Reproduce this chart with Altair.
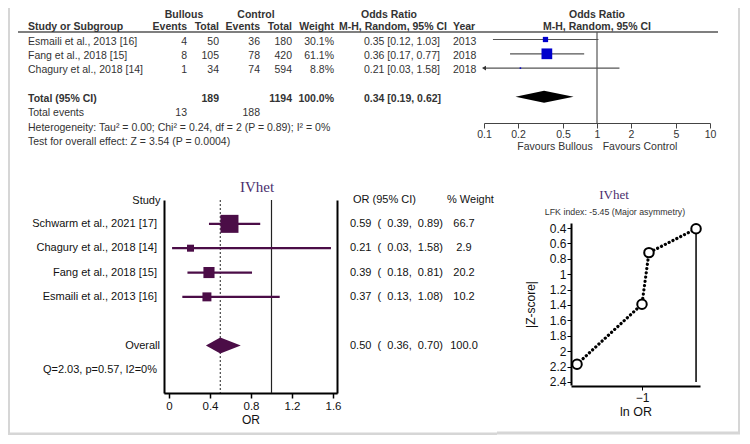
import altair as alt
import pandas as pd

# ---------------- data ----------------
# top panel (RevMan forest plot)
top_studies = ["Esmaili et al., 2013 [16]", "Fang et al., 2018 [15]", "Chagury et al., 2018 [14]"]
top_bullous_events = [4, 8, 1]
top_bullous_total = [50, 105, 34]
top_control_events = [36, 78, 74]
top_control_total = [180, 420, 594]
top_weight = [30.1, 61.1, 8.8]
top_or = [0.35, 0.36, 0.21]
top_lo = [0.12, 0.17, 0.03]
top_hi = [1.03, 0.77, 1.58]
top_year = [2013, 2018, 2018]
top_pooled = [0.34, 0.19, 0.62]          # OR, lower, upper
top_sum_total = [189, 1194]
top_sum_events = [13, 188]
top_ticks = [0.1, 0.2, 0.5, 1, 2, 5, 10]
top_het = "Heterogeneity: Tau\u00b2 = 0.00; Chi\u00b2 = 0.24, df = 2 (P = 0.89); I\u00b2 = 0%"
top_test = "Test for overall effect: Z = 3.54 (P = 0.0004)"

# bottom-left panel (MetaXL IVhet forest plot)
bl_studies = ["Schwarm et al., 2021 [17]", "Chagury et al., 2018 [14]", "Fang et al., 2018 [15]", "Esmaili et al., 2013 [16]"]
bl_or = [0.59, 0.21, 0.39, 0.37]
bl_lo = [0.39, 0.03, 0.18, 0.13]
bl_hi = [0.89, 1.58, 0.81, 1.08]
bl_weight = [66.7, 2.9, 20.2, 10.2]
bl_pooled = [0.50, 0.36, 0.70, 100.0]    # OR, lower, upper, weight
bl_q = "Q=2.03, p=0.57, I2=0%"
bl_ticks = [0, 0.4, 0.8, 1.2, 1.6]

# bottom-right panel (Doi plot / LFK)
lfk_lnor = [-0.534, -0.94, -1.0, -1.56]
lfk_z = [0.41, 0.72, 1.39, 2.17]
lfk_yticks = [0.4, 0.6, 0.8, 1.0, 1.2, 1.4, 1.6, 1.8, 2.0, 2.2, 2.4]
lfk_xticks = [-1]
lfk_note = "LFK index: -5.45 (Major asymmetry)"

NULL_OR = 1

# ---------------- layout ----------------
W, H = 733, 427
FONT = "Liberation Sans"
SERIF = "Liberation Serif"
PURPLE = "#4b0d47"
TOPTXT = "#333333"
NB = "\u00a0"


def P(v):
    """page pixel -> chart pixel (page has an 8px margin)"""
    return v - 8


def label(text, x, y, align="left", size=10.5, bold=False, color=TOPTXT, font=FONT):
    return alt.Chart(pd.DataFrame({"t": [text]})).mark_text(
        align=align, baseline="middle", fontSize=size, font=font,
        fontWeight="bold" if bold else "normal", color=color
    ).encode(x=alt.value(P(x)), y=alt.value(P(y)), text="t:N")


layers = []

# ======== TOP PANEL ========
sx_top = alt.Scale(type="log", domain=[0.1, 10], range=[P(484), P(710)], nice=False)
sy_top = alt.Scale(domain=[0, 4], range=[P(39.5), P(96.7)], nice=False, zero=False)
top_axis = alt.Axis(orient="bottom", offset=P(123) - H, values=top_ticks, format="~g", title=None,
                    grid=False, tickSize=5, labelFontSize=10.5, labelColor=TOPTXT, domainColor="#444",
                    tickColor="#444", labelPadding=1, labelFlush=False, labelOverlap=False)

top_df = pd.DataFrame({
    "study": top_studies,
    "be": [str(v) for v in top_bullous_events],
    "bt": [str(v) for v in top_bullous_total],
    "ce": [str(v) for v in top_control_events],
    "ct": [str(v) for v in top_control_total],
    "w": [f"{v:.1f}%" for v in top_weight],
    "weight": top_weight,
    "ci": [f"{o:.2f} [{l:.2f}, {h:.2f}]" for o, l, h in zip(top_or, top_lo, top_hi)],
    "year": [str(v) for v in top_year],
    "or": top_or,
    "lo": top_lo,
    "lo_d": [max(v, 0.1) for v in top_lo],
    "hi": top_hi,
    "row": list(range(len(top_studies))),
})
TOTAL_ROW = 4

# header rule and null line
layers.append(alt.Chart(pd.DataFrame({"a": [0]})).mark_rule(color="#555", strokeWidth=1.5).encode(
    x=alt.value(P(18)), x2=alt.value(P(718)), y=alt.value(P(32))))
layers.append(alt.Chart(pd.DataFrame({"v": [NULL_OR]})).mark_rule(color="#555", strokeWidth=1.2).encode(
    x=alt.X("v:Q", scale=sx_top, axis=None), y=alt.value(P(32)), y2=alt.value(P(123))))
# CI lines (carry the axis)
layers.append(alt.Chart(top_df).mark_rule(color="#555", strokeWidth=1.2).encode(
    x=alt.X("lo_d:Q", scale=sx_top, axis=top_axis), x2="hi:Q",
    y=alt.Y("row:Q", scale=sy_top, axis=None)))
# arrows for clipped CI
layers.append(alt.Chart(top_df[top_df["lo"] < 0.1]).mark_point(
    shape="triangle-left", filled=True, size=22, color="#333", opacity=1).encode(
    x=alt.X("lo_d:Q", scale=sx_top, axis=None), y=alt.Y("row:Q", scale=sy_top, axis=None)))
# squares
layers.append(alt.Chart(top_df).mark_square(color="#0000cc", opacity=1).encode(
    x=alt.X("or:Q", scale=sx_top, axis=None), y=alt.Y("row:Q", scale=sy_top, axis=None),
    size=alt.Size("weight:Q", scale=alt.Scale(type="pow", exponent=2, domain=[0, max(top_weight)], range=[0, 115]),
                  legend=None)))
# pooled diamond
h_top = 0.42
dia_top = pd.DataFrame({
    "x": [top_pooled[1], top_pooled[0], top_pooled[2]],
    "y": [TOTAL_ROW, TOTAL_ROW - h_top, TOTAL_ROW],
    "y2": [TOTAL_ROW, TOTAL_ROW + h_top, TOTAL_ROW],
})
layers.append(alt.Chart(dia_top).mark_area(color="black", opacity=1).encode(
    x=alt.X("x:Q", scale=sx_top, axis=None), y=alt.Y("y:Q", scale=sy_top, axis=None), y2="y2:Q"))


def top_col(field, x, align, df=top_df, bold=False):
    return alt.Chart(df).mark_text(align=align, baseline="middle", dy=2, fontSize=10.5, font=FONT,
                                   fontWeight="bold" if bold else "normal", color=TOPTXT).encode(
        x=alt.value(P(x)), y=alt.Y("row:Q", scale=sy_top, axis=None), text=f"{field}:N")


layers += [
    top_col("study", 28, "left"), top_col("be", 187, "right"), top_col("bt", 219, "right"),
    top_col("ce", 260, "right"), top_col("ct", 292, "right"), top_col("w", 334, "right"),
    top_col("ci", 364, "left"), top_col("year", 453, "left"),
]
tot_df = pd.DataFrame({
    "row": [TOTAL_ROW],
    "lab": ["Total (95% CI)"],
    "bt": [str(top_sum_total[0])],
    "ct": [str(top_sum_total[1])],
    "w": [f"{sum(top_weight):.1f}%"],
    "ci": [f"{top_pooled[0]:.2f} [{top_pooled[1]:.2f}, {top_pooled[2]:.2f}]"],
})
layers += [
    top_col("lab", 28, "left", tot_df, True), top_col("bt", 219, "right", tot_df, True),
    top_col("ct", 292, "right", tot_df, True), top_col("w", 334, "right", tot_df, True),
    top_col("ci", 364, "left", tot_df, True),
]
# headers
HR1, HR2 = 14.5, 26.5
layers += [
    label("Bullous", 184, HR1, "center", bold=True), label("Control", 256, HR1, "center", bold=True),
    label("Odds Ratio", 389, HR1, "center", bold=True), label("Odds Ratio", 597, HR1, "center", bold=True),
    label("Study or Subgroup", 28, HR2, "left", bold=True),
    label("Events", 187, HR2, "right", bold=True), label("Total", 219, HR2, "right", bold=True),
    label("Events", 260, HR2, "right", bold=True), label("Total", 292, HR2, "right", bold=True),
    label("Weight", 334, HR2, "right", bold=True),
    label("M-H, Random, 95% CI", 393, HR2, "center", bold=True),
    label("Year", 453, HR2, "left", bold=True),
    label("M-H, Random, 95% CI", 597, HR2, "center", bold=True),
]
# footer
layers += [
    label("Total events", 28, 113), label(str(top_sum_events[0]), 187, 113, "right"),
    label(str(top_sum_events[1]), 260, 113, "right"),
    label(top_het, 28, 127.5), label(top_test, 28, 142),
    label("Favours Bullous", 555, 147, "center"), label("Favours Control", 640, 147, "center"),
]

# ======== BOTTOM-LEFT PANEL ========
px_per = 102.5
x0_bl = 169
sx_bl = alt.Scale(domain=[-0.05, 1.64], range=[P(x0_bl - 0.05 * px_per), P(x0_bl + 1.64 * px_per)],
                  nice=False, zero=False)
sy_bl = alt.Scale(domain=[-0.98, 6.95], range=[P(200), P(393)], nice=False, zero=False)
OVERALL_ROW, Q_ROW = 5, 6


def ci_text(o, l, h):
    return f"{o:.2f}{NB}{NB}({NB}{NB}{l:.2f},{NB}{NB}{h:.2f})"


bl_df = pd.DataFrame({
    "study": bl_studies, "or": bl_or, "lo": bl_lo, "hi": bl_hi, "weight": bl_weight,
    "ci": [ci_text(o, l, h) for o, l, h in zip(bl_or, bl_lo, bl_hi)],
    "w": [f"{v:.1f}" for v in bl_weight],
    "row": list(range(len(bl_studies))),
})

bl_xaxis = alt.Axis(orient="bottom", offset=P(393) - H, values=bl_ticks, format="~g", title="OR",
                    grid=False, tickSize=5, tickWidth=1.5, tickColor="black", domainColor="black",
                    domainWidth=2, labelFontSize=11.5, titleFontSize=12, titleFontWeight="normal",
                    labelColor="#111", titleColor="#111", labelFlush=False, labelOverlap=False,
                    labelPadding=2, titlePadding=3)
bl_yaxis_l = alt.Axis(orient="left", offset=-P(164), ticks=False, labels=False, grid=False,
                      domainColor="black", domainWidth=2, title="Study", titleAngle=0, titleAlign="right",
                      titleBaseline="middle", titleX=-4, titleY=P(200), titleFontSize=11,
                      titleFontWeight="normal", titleColor="#111")
bl_yaxis_r = alt.Axis(orient="right", offset=P(337) - W, ticks=False, labels=False, grid=False,
                      domainColor="black", domainWidth=2, title=None)

# reference lines
layers.append(alt.Chart(pd.DataFrame({"v": [bl_pooled[0]]})).mark_rule(
    color="#222", strokeWidth=1, strokeDash=[2, 2]).encode(
    x=alt.X("v:Q", scale=sx_bl, axis=None), y=alt.value(P(200)), y2=alt.value(P(393))))
layers.append(alt.Chart(pd.DataFrame({"v": [NULL_OR]})).mark_rule(color="#222", strokeWidth=1.2).encode(
    x=alt.X("v:Q", scale=sx_bl, axis=None), y=alt.value(P(200)), y2=alt.value(P(393))))
# CI lines
layers.append(alt.Chart(bl_df).mark_rule(color=PURPLE, strokeWidth=2.2).encode(
    x=alt.X("lo:Q", scale=sx_bl, axis=bl_xaxis), x2="hi:Q",
    y=alt.Y("row:Q", scale=sy_bl, axis=bl_yaxis_l)))
# squares
layers.append(alt.Chart(bl_df).mark_square(color=PURPLE, opacity=1).encode(
    x=alt.X("or:Q", scale=sx_bl, axis=None), y=alt.Y("row:Q", scale=sy_bl, axis=bl_yaxis_r),
    size=alt.Size("weight:Q", scale=alt.Scale(domain=[min(bl_weight), max(bl_weight)], range=[49, 324]),
                  legend=None)))
# diamond
h_bl = 0.33
dia_bl = pd.DataFrame({
    "x": [bl_pooled[1], bl_pooled[0], bl_pooled[2]],
    "y": [OVERALL_ROW, OVERALL_ROW - h_bl, OVERALL_ROW],
    "y2": [OVERALL_ROW, OVERALL_ROW + h_bl, OVERALL_ROW],
})
layers.append(alt.Chart(dia_bl).mark_area(color=PURPLE, opacity=1).encode(
    x=alt.X("x:Q", scale=sx_bl, axis=None), y=alt.Y("y:Q", scale=sy_bl, axis=None), y2="y2:Q"))


def bl_col(field, x, align, df=bl_df):
    return alt.Chart(df).mark_text(align=align, baseline="middle", fontSize=11, font=FONT, color="#111").encode(
        x=alt.value(P(x)), y=alt.Y("row:Q", scale=sy_bl, axis=None), text=f"{field}:N")


ov_df = pd.DataFrame({
    "row": [OVERALL_ROW, Q_ROW],
    "lab": ["Overall", bl_q],
    "ci": [ci_text(bl_pooled[0], bl_pooled[1], bl_pooled[2]), ""],
    "w": [f"{bl_pooled[3]:.1f}", ""],
})
layers += [
    bl_col("study", 157, "right"), bl_col("ci", 350, "left"), bl_col("w", 464, "center"),
    bl_col("ci", 350, "left", ov_df), bl_col("w", 464, "center", ov_df),
    bl_col("lab", 160, "right", ov_df.iloc[[0]]), bl_col("lab", 157, "right", ov_df.iloc[[1]]),
    label("OR (95% CI)", 353, 200, "left", size=11, color="#111"),
    label("% Weight", 447, 200, "left", size=11, color="#111"),
    label("IVhet", 257, 187, "center", size=15, color="#4b2f6e", font=SERIF),
]

# ======== BOTTOM-RIGHT PANEL (Doi plot) ========
sx_lfk = alt.Scale(domain=[-1.612, -0.5], range=[P(571), P(700)], nice=False, zero=False)
sy_lfk = alt.Scale(domain=[0.335, 2.44], range=[P(223), P(385)], nice=False, zero=False)
lfk_df = pd.DataFrame({"x": lfk_lnor, "z": lfk_z})

lfk_xaxis = alt.Axis(orient="bottom", offset=P(386) - H, values=lfk_xticks, format="~g", title="ln OR",
                     grid=False, tickSize=4, tickColor="black", domainColor="black", domainWidth=2,
                     labelFontSize=12, titleFontSize=12.5, titleFontWeight="normal", labelColor="#111",
                     titleColor="#111", labelPadding=2, titlePadding=2, labelFlush=False)
lfk_yaxis = alt.Axis(orient="left", offset=-P(571), values=lfk_yticks, format="~g", title="|Z-score|",
                     grid=False, tickSize=4, tickColor="black", domainColor="black", domainWidth=2,
                     labelFontSize=12, titleFontSize=12, titleFontWeight="normal", labelColor="#111",
                     titleColor="#111", labelPadding=1, titlePadding=12, labelFlush=False,
                     labelOverlap=False)

layers.append(alt.Chart(pd.DataFrame({"x": [lfk_lnor[0]], "z": [lfk_z[0]], "z2": [lfk_yticks[-1]]}))
              .mark_rule(color="black", strokeWidth=1.5).encode(
    x=alt.X("x:Q", scale=sx_lfk, axis=None), y=alt.Y("z:Q", scale=sy_lfk, axis=None), y2="z2:Q"))
layers.append(alt.Chart(lfk_df).mark_line(color="black", strokeWidth=3.2, strokeDash=[0.1, 4.2],
                                          strokeCap="round").encode(
    x=alt.X("x:Q", scale=sx_lfk, axis=lfk_xaxis), y=alt.Y("z:Q", scale=sy_lfk, axis=lfk_yaxis),
    order="z:Q"))
layers.append(alt.Chart(lfk_df).mark_point(shape="circle", filled=True, fill="white", stroke="black",
                                           strokeWidth=2, size=90, opacity=1).encode(
    x=alt.X("x:Q", scale=sx_lfk, axis=None), y=alt.Y("z:Q", scale=sy_lfk, axis=None)))
layers += [
    label("IVhet", 614, 195, "center", size=13, color="#4b2f6e", font=SERIF),
    label(lfk_note, 615, 212, "center", size=8.8, color="#333"),
]

# ======== panel edges (light shadows) ========
EDGE = "#d6d6d6"
layers += [
    alt.Chart(pd.DataFrame({"a": [0]})).mark_rule(color=EDGE, strokeWidth=2).encode(
        x=alt.value(1), y=alt.value(0), y2=alt.value(H - 1)),
    alt.Chart(pd.DataFrame({"a": [0]})).mark_rule(color=EDGE, strokeWidth=2).encode(
        x=alt.value(W - 2), y=alt.value(0), y2=alt.value(P(433))),
    alt.Chart(pd.DataFrame({"a": [0]})).mark_rule(color=EDGE, strokeWidth=3).encode(
        x=alt.value(0), x2=alt.value(P(497)), y=alt.value(H - 1)),
    alt.Chart(pd.DataFrame({"a": [0]})).mark_rule(color=EDGE, strokeWidth=3).encode(
        x=alt.value(P(497)), x2=alt.value(W - 1), y=alt.value(P(433))),
]

chart = alt.layer(*layers).resolve_scale(
    x="independent", y="independent", size="independent"
).properties(
    width=W, height=H, padding=0, autosize=alt.AutoSizeParams(type="none"), background="white"
).configure_view(stroke=None).configure_text(font=FONT).configure_axis(
    labelFont=FONT, titleFont=FONT
)

chart.save("out.html", embed_options={"renderer": "svg", "actions": False})
